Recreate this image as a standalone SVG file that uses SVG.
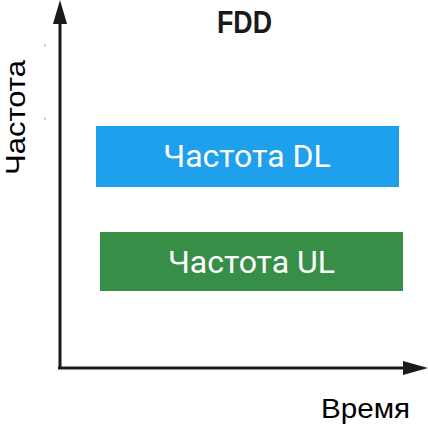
<svg xmlns="http://www.w3.org/2000/svg" width="428" height="426" viewBox="0 0 428 426">
  <style>
    .axis { stroke: #1a1a1a; stroke-width: 3; fill: none; }
    .tick { stroke: #aaaaaa; stroke-width: 1; }
    .lbl { font-family: "Liberation Sans", Arial, sans-serif; fill: #000; }
    .band { font-family: Roboto, "Liberation Sans", sans-serif; font-size: 32px; fill: #ffffff; text-anchor: middle; }
    .title { font-family: "Liberation Sans", Arial, sans-serif; font-weight: bold; font-size: 32px; fill: #1a1a1a; }
  </style>
  <defs>
    <marker id="arrow" viewBox="0 0 10 10" refX="10" refY="5" markerWidth="8" markerHeight="8" markerUnits="userSpaceOnUse" orient="auto">
      <path d="M0,0 L10,5 L0,10 Z" fill="#1a1a1a"/>
    </marker>
  </defs>
  <rect width="428" height="426" fill="#ffffff"/>

  <!-- axes -->
  <g id="connectors">
    <path class="axis" d="M60,368 L60,22"/>
    <polygon points="60,0 53,24 67,24" fill="#1a1a1a"/>
    <path class="axis" d="M58,368 L405,368"/>
    <polygon points="428,368 403,361 403,375" fill="#1a1a1a"/>
    <line class="tick" x1="45" y1="44" x2="45" y2="47"/>
    <line class="tick" x1="45" y1="117" x2="45" y2="120"/>
  </g>

  <text class="title" x="217" y="33" textLength="55" lengthAdjust="spacingAndGlyphs">FDD</text>

  <g id="dl">
    <rect x="96" y="126" width="303" height="61" fill="#1ea0ec"/>
    <text class="band" x="247" y="167">Частота DL</text>
  </g>

  <g id="ul">
    <rect x="100" y="232" width="303" height="59" fill="#378f47"/>
    <text class="band" x="251.5" y="273">Частота UL</text>
  </g>

  <text class="lbl" x="321" y="418" font-size="28" textLength="89" lengthAdjust="spacingAndGlyphs">Время</text>
  <text class="lbl" transform="translate(25,175) rotate(-90)" font-size="28" textLength="115" lengthAdjust="spacingAndGlyphs">Частота</text>
</svg>
